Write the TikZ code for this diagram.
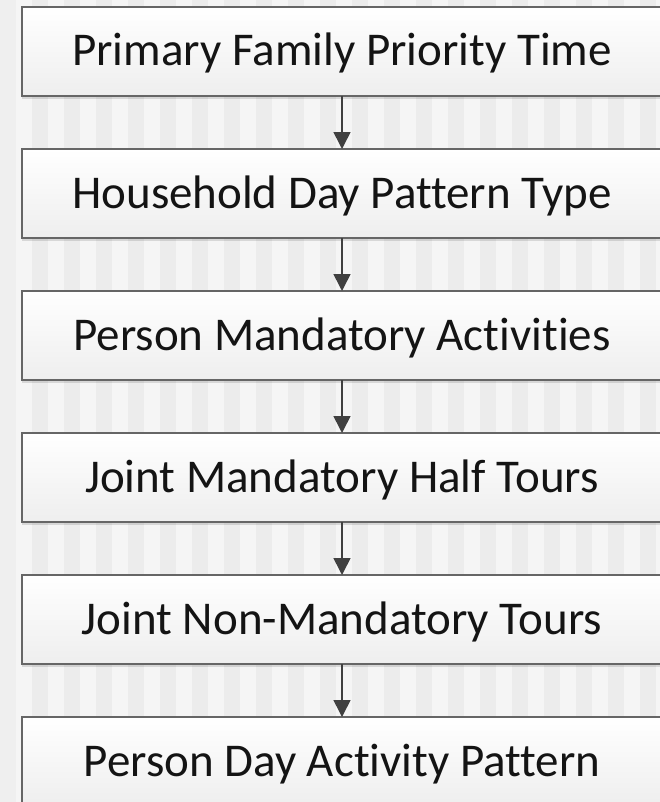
\documentclass[tikz,border=0pt]{standalone}
\usepackage{fontspec}
\setmainfont[Ligatures=NoCommon]{Carlito}
\usetikzlibrary{arrows.meta,shadows}
\definecolor{bgside}{HTML}{EFEFEF}
\definecolor{bglight}{HTML}{F5F5F5}
\definecolor{bgdark}{HTML}{ECECEC}
\definecolor{boxline}{HTML}{666666}
\definecolor{boxbottom}{HTML}{EEEEEE}
\definecolor{arrowcol}{HTML}{404040}
\tikzset{
  stagebox/.style={draw=boxline, line width=1.2bp, top color=white, bottom color=boxbottom,
    drop shadow={shadow xshift=0bp, shadow yshift=-3bp, fill=black, opacity=0.12}},
  stagetext/.style={anchor=base, text=black!92, font=\fontsize{47bp}{52bp}\selectfont, inner sep=0pt},
  flow/.style={draw=arrowcol, line width=1.6bp, -{Triangle[width=17bp,length=17bp]}}
}
\begin{document}
\begin{tikzpicture}[x=1bp,y=-1bp]
  \useasboundingbox (0,0) rectangle (660,802);
  \clip (0,0) rectangle (660,802);
  % striped backdrop
  \fill[bgside] (0,0) rectangle (16,802);
  \foreach \i in {0,...,40} {
    \pgfmathsetmacro{\xa}{16+32*\i}
    \fill[bglight] (\xa,0) rectangle ++(16,802);
    \fill[bgdark] (\xa+16,0) rectangle ++(16,802);
  }
  % stage boxes, pitch 142
  \foreach \k/\lbl in {0/Primary Family Priority Time,
                       1/Household Day Pattern Type,
                       2/Person Mandatory Activities,
                       3/Joint Mandatory Half Tours,
                       4/Joint Non-Mandatory Tours,
                       5/Person Day Activity Pattern} {
    \pgfmathsetmacro{\yt}{7+142*\k}
    \path[stagebox] (22,\yt) rectangle (663,\yt+89);
    \coordinate (top\k) at (342,\yt);
    \coordinate (bot\k) at (342,\yt+89);
    \node[stagetext] (s\k) at (342,\yt+59) {\lbl};
  }
  % arrows between consecutive stages
  \foreach \a/\b in {0/1,1/2,2/3,3/4,4/5} {
    \draw[flow] (bot\a) -- (top\b);
  }
\end{tikzpicture}
\end{document}
